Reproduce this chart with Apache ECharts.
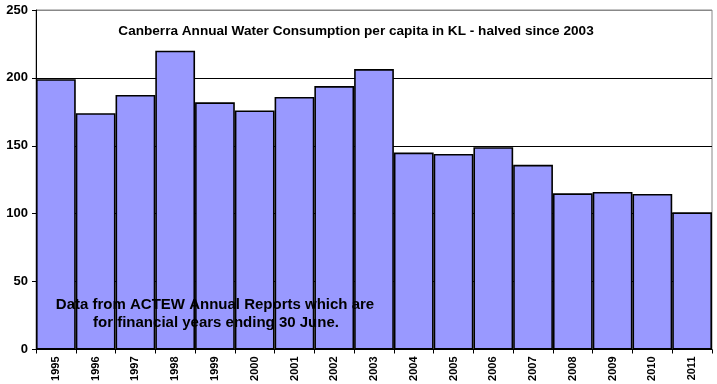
<!DOCTYPE html>
<html><head><meta charset="utf-8">
<script src="https://cdn.jsdelivr.net/npm/echarts@6/dist/echarts.min.js"></script>
<style>html,body{margin:0;padding:0;background:#fff}#c{width:717px;height:384px}</style>
</head><body><div id="c"></div>
<script>
var years = ['1995','1996','1997','1998','1999','2000','2001','2002','2003','2004','2005','2006','2007','2008','2009','2010','2011'];
var consumption = [199, 174, 187.5, 220, 182, 176, 186, 194, 206.5, 145, 144, 149, 136, 115, 116, 114.5, 101];
var yTicks = [0, 50, 100, 150, 200, 250];
var titleText = 'Canberra Annual Water Consumption per capita in KL - halved since 2003';
var noteLines = ['Data from ACTEW Annual Reports which are', 'for financial years ending 30 June.'];

var chart = echarts.init(document.getElementById('c'), null, {renderer: 'canvas'});
chart.setOption({
  animation: false,
  backgroundColor: '#fff',
  textStyle: {fontFamily: 'Arial, "Liberation Sans", sans-serif'},
  grid: {left: 36, right: 5, top: 10, bottom: 34.5, show: true, borderColor: '#888', borderWidth: 1, backgroundColor: 'transparent'},
  title: {
    text: titleText, left: 351, top: 19, textAlign: 'center',
    textStyle: {fontSize: 13.6, fontWeight: 'bold', color: '#000', fontFamily: 'Arial, "Liberation Sans", sans-serif'}
  },
  xAxis: {
    type: 'category', data: years, boundaryGap: true,
    axisLine: {lineStyle: {color: '#000', width: 1}},
    axisTick: {show: true, length: 4, lineStyle: {color: '#000'}},
    axisLabel: {rotate: 90, fontSize: 11, fontWeight: 'bold', color: '#000', margin: 7, interval: 0},
    splitLine: {show: false}
  },
  yAxis: {
    type: 'value', min: yTicks[0], max: yTicks[yTicks.length - 1], interval: 50,
    axisLine: {show: true, lineStyle: {color: '#000', width: 1}},
    axisTick: {show: true, length: 4, lineStyle: {color: '#000'}},
    axisLabel: {fontSize: 13, fontWeight: 'bold', color: '#000', margin: 8},
    splitLine: {show: true, lineStyle: {color: ['#000', '#000', '#000', '#000', '#000', '#888'], width: 1}}
  },
  series: [{
    type: 'bar', data: consumption, barCategoryGap: '0%',
    itemStyle: {color: '#9999FF', borderColor: '#000', borderWidth: 1.6},
    z: 2
  }],
  graphic: [
    {type: 'text', x: 215, y: 305, z: 100,
     style: {text: noteLines[0], font: 'bold 15px Arial, "Liberation Sans", sans-serif', fill: '#000', align: 'center', verticalAlign: 'middle'}},
    {type: 'text', x: 216, y: 323, z: 100,
     style: {text: noteLines[1], font: 'bold 15px Arial, "Liberation Sans", sans-serif', fill: '#000', align: 'center', verticalAlign: 'middle'}}
  ]
});
</script></body></html>
